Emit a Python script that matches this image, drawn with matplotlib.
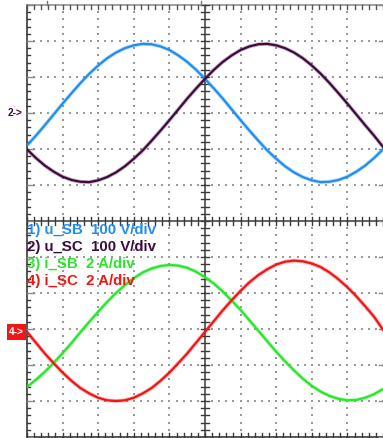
import numpy as np
import matplotlib
matplotlib.use("Agg")
import matplotlib.pyplot as plt
from matplotlib.patches import Rectangle

# ---- data (divisions) ----
t_div = [i * 0.25 for i in range(41)]  # time axis in divisions (0..10)

u_SB = [2.10, 2.37, 2.66, 2.96, 3.26, 3.55, 3.83, 4.09, 4.32, 4.52, 4.68,
        4.80, 4.88, 4.92, 4.91, 4.85, 4.75, 4.60, 4.42, 4.20, 3.95, 3.68,
        3.40, 3.10, 2.80, 2.51, 2.23, 1.96, 1.73, 1.52, 1.35, 1.22, 1.13,
        1.08, 1.09, 1.14, 1.23, 1.37, 1.54, 1.75, 1.99]

u_SC = [1.99, 1.75, 1.54, 1.37, 1.23, 1.14, 1.09, 1.08, 1.13, 1.22, 1.35,
        1.52, 1.73, 1.96, 2.23, 2.51, 2.80, 3.10, 3.40, 3.68, 3.95, 4.20,
        4.42, 4.60, 4.75, 4.85, 4.91, 4.92, 4.88, 4.80, 4.68, 4.52, 4.32,
        4.09, 3.83, 3.55, 3.26, 2.96, 2.66, 2.37, 2.06]

i_SB = [-4.61, -4.41, -4.19, -3.94, -3.67, -3.39, -3.09, -2.80, -2.52, -2.25,
        -2.00, -1.78, -1.59, -1.43, -1.32, -1.25, -1.22, -1.24, -1.30, -1.41,
        -1.56, -1.74, -1.96, -2.21, -2.47, -2.76, -3.05, -3.34, -3.63, -3.90,
        -4.15, -4.38, -4.58, -4.74, -4.86, -4.94, -4.98, -4.97, -4.91, -4.81,
        -4.67]

i_SC = [-3.08, -3.38, -3.68, -3.95, -4.21, -4.44, -4.64, -4.79, -4.91, -4.98,
        -5.00, -4.98, -4.91, -4.79, -4.64, -4.44, -4.21, -3.95, -3.68, -3.38,
        -3.08, -2.78, -2.48, -2.20, -1.94, -1.70, -1.50, -1.34, -1.21, -1.13,
        -1.10, -1.12, -1.18, -1.28, -1.43, -1.62, -1.84, -2.09, -2.37, -2.66,
        -3.02]

labels = ["1) u_SB  100 V/div", "2) u_SC  100 V/div",
          "3) i_SB  2 A/div", "4) i_SC  2 A/div"]
colors = ["#1f8ef1", "#3e0b3e", "#2ae62a", "#f51414"]

# ---- figure ----
W, H = 383, 438
fig = plt.figure(figsize=(W / 100, H / 100), dpi=100)
fig.patch.set_facecolor("white")
ax = fig.add_axes([27 / W, 1 / H, 356 / W, 432 / H])
ax.set_xlim(0, 10)
ax.set_ylim(-6, 6)
ax.axis("off")

px_x = 10 / 356.0
px_y = 12 / 432.0

grid_c = "#999999"
# dotted grid
minor_x = np.arange(0, 10.001, 0.2)
minor_y = np.arange(-6, 6.001, 0.2)
for gx in range(1, 10):
    if gx == 5:
        continue
    ax.scatter(np.full_like(minor_y, gx), minor_y, s=0.9, marker="s",
               color=grid_c, linewidths=0, zorder=1)
for gy in range(-5, 6):
    if gy == 0:
        continue
    ax.scatter(minor_x, np.full_like(minor_x, gy), s=0.9, marker="s",
               color=grid_c, linewidths=0, zorder=1)

dark = "#3a3a3a"
# borders
ax.plot([0, 0], [-6, 6], color=dark, lw=1.2, zorder=2, clip_on=False)
ax.plot([0, 10], [6, 6], color="#9a9a9a", lw=1.3, zorder=2, clip_on=False)
ax.plot([0, 10], [-6, -6], color=dark, lw=1.2, zorder=2, clip_on=False)
# center axes
ax.plot([5, 5], [-6, 6], color=dark, lw=1.1, zorder=2)
ax.plot([0, 10], [0, 0], color=dark, lw=1.1, zorder=2)

def is_major(v):
    return abs(v - round(v)) < 1e-6

# ticks on left border (inward)
for y in minor_y:
    L = 7 if is_major(y) else 3
    c = "#8a8a8a" if is_major(y) else dark
    ax.plot([0, L * px_x], [y, y], color=c, lw=1.0, zorder=2, clip_on=False)
# ticks on top border (downward)
for x in minor_x:
    ax.plot([x, x], [6, 6 - 4 * px_y], color="#555555", lw=1.0, zorder=2, clip_on=False)
# ticks on bottom border (upward)
for x in minor_x:
    ax.plot([x, x], [-6, -6 + 4 * px_y], color=dark, lw=1.0, zorder=2, clip_on=False)
# ticks on right border (inward)
for y in minor_y:
    if is_major(y):
        ax.plot([10, 10 - 4 * px_x], [y, y], color="#8a8a8a", lw=1.0, zorder=2, clip_on=False)
# ticks across center axes
for x in minor_x:
    ax.plot([x, x], [-4 * px_y, 4 * px_y], color=dark, lw=1.0, zorder=2)
for y in minor_y:
    ax.plot([5 - 4 * px_x, 5 + 4 * px_x], [y, y], color=dark, lw=1.0, zorder=2)

# trigger markers above top border
for x in [0.56, 4.9]:
    ax.plot([x, x], [6, 6 + 4 * px_y], color="#7a7a7a", lw=1.0, clip_on=False)

# ---- traces ----
for ys, c in zip([u_SB, u_SC, i_SB, i_SC], colors):
    ax.plot(t_div, ys, color=c, lw=2.8, alpha=0.3, zorder=3,
            solid_capstyle="round")
    ax.plot(t_div, ys, color=c, lw=1.6, zorder=4, solid_capstyle="round")

# ---- labels ----
fam = ["Liberation Sans", "DejaVu Sans"]
for k, (lab, c) in enumerate(zip(labels, colors)):
    fig.text(27 / W, 1 - (230 + 17 * k) / H, lab, color=c, fontsize=10.8,
             fontweight="bold", family=fam, va="center", ha="left", zorder=6)

# channel reference markers
fig.text(8 / W, 1 - 113 / H, "2->", color="#3e0b3e", fontsize=7.3,
         fontweight="bold", family=fam, va="center", ha="left")
fig.patches.append(Rectangle((7 / W, 1 - 340 / H), 19 / W, 16 / H,
                             transform=fig.transFigure, facecolor="#f51414",
                             edgecolor="none", zorder=5))
fig.text(9 / W, 1 - 332 / H, "4->", color="white", fontsize=7.3,
         fontweight="bold", family=fam, va="center", ha="left", zorder=6)

fig.savefig("out.png", dpi=100, facecolor="white")
